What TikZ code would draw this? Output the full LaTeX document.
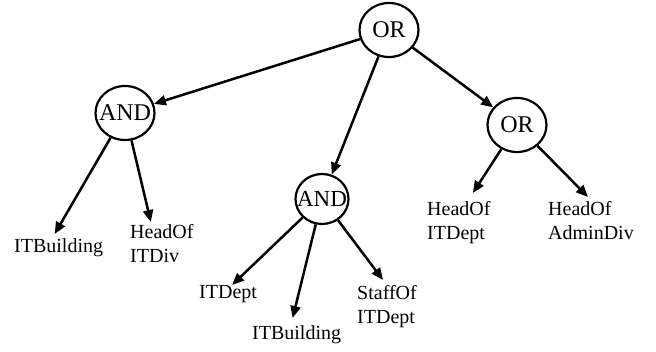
\documentclass[tikz,border=0pt]{standalone}
\usepackage{fontspec}
\setmainfont{Liberation Serif}
\usetikzlibrary{shapes.geometric,arrows.meta,calc}
\begin{document}
\begin{tikzpicture}[x=1pt,y=-1pt,
  gate/.style={ellipse,draw,line width=2.2pt,inner sep=0pt,minimum width=59pt,minimum height=54pt,font=\fontsize{24}{28}\selectfont},
  leaf/.style={inner sep=0pt,align=left,anchor=north west,font=\fontsize{20}{24.5}\selectfont},
  arr/.style={line width=2.5pt,-{Triangle[length=12pt,width=10pt]}}]
\useasboundingbox (0,0) rectangle (656,352);
\node[gate] (or1) at (389,30) {\makebox[0pt]{OR}};
\node[gate] (and1) at (125,113) {\makebox[0pt]{AND}};
\node[gate,minimum width=53pt,minimum height=50pt,font=\fontsize{23}{27}\selectfont] (and2) at (322,199) {\makebox[0pt]{AND}};
\node[gate] (or2) at (517,125) {\makebox[0pt]{OR}};
\node[leaf] (itb1) at (14,238) {ITBuilding};
\node[leaf] (hd1) at (130,224) {HeadOf\\ITDiv};
\node[leaf] (itd) at (199,285) {ITDept};
\node[leaf] (itb2) at (252,325) {ITBuilding};
\node[leaf] (sto) at (357,285) {StaffOf\\ITDept};
\node[leaf] (hd2) at (427,201) {HeadOf\\ITDept};
\node[leaf] (hd3) at (548,201) {HeadOf\\AdminDiv};
\draw[arr] (or1) -- (and1);
\draw[arr] (or1) -- (and2);
\draw[arr] (or1) -- (or2);
\draw[arr] (and1) -- ($(itb1.north)+(-4,-4)$);
\draw[arr] (and1) -- ($(hd1.north)+(-11,-2)$);
\draw[arr] (and2) -- ($(itd.north)+(4,0)$);
\draw[arr] (and2) -- ($(itb2.north)+(-4,-7)$);
\draw[arr] (and2) -- ($(sto.north)+(-4,-5)$);
\draw[arr] (or2) -- ($(hd2.north)+(14,-8)$);
\draw[arr] (or2) -- ($(hd3.north)+(-3,-4)$);
\end{tikzpicture}
\end{document}
